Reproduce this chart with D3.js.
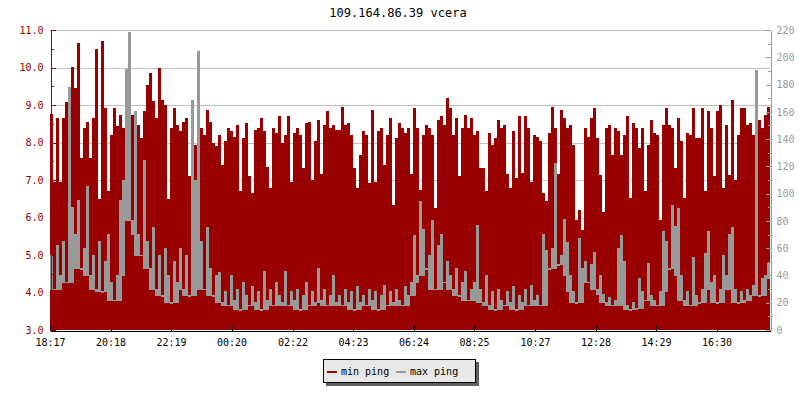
<!DOCTYPE html>
<html><head><meta charset="utf-8">
<script src="https://cdn.jsdelivr.net/npm/d3@7"></script>
<style>
body{margin:0;background:#fff}
svg text{font-family:"DejaVu Sans Mono",monospace;font-size:10px}
</style>
</head><body>
<svg id="c" width="800" height="400"></svg>
<script>
const chartTitle = "109.164.86.39 vcera";
const startTime = "18:17";
const stepMinutes = 6;
const xTickLabels = ["18:17","20:18","22:19","00:20","02:22","04:23","06:24","08:25","10:27","12:28","14:29","16:30"];
const leftTicks = [3,4,5,6,7,8,9,10,11];
const leftMinorTicks = [3.5,4.5,5.5,6.5,7.5,8.5,9.5,10.5];
const rightTicks = [0,20,40,60,80,100,120,140,160,180,200,220];
const rightMinorTicks = [10,30,50,70,90,110,130,150,170,190,210];
const seriesNames = ["min ping","max ping"];
const seriesColors = ["#990000","#999999"];

const minPing = [
8.76,6.95,8.65,6.95,8.65,9.08,9.0,10.01,9.45,10.65,7.59,8.39,8.56,7.6,8.65,10.5,6.5,10.7,8.92,6.7,8.21,8.92,8.43,8.74,8.39,8.3,8.39,8.74,8.83,8.48,8.12,8.83,9.54,9.85,9.1,8.65,9.99,9.14,9.0,6.5,8.39,8.92,8.48,8.3,8.56,8.65,7.1,8.21,
7.94,8.48,8.39,8.21,8.88,8.56,7.99,7.9,8.21,7.41,8.03,8.39,8.3,8.16,8.48,6.7,8.12,8.52,7.1,6.65,8.34,8.39,8.65,8.3,7.36,6.79,8.39,8.25,8.7,7.99,8.21,8.7,6.96,8.25,8.39,8.21,7.32,8.52,8.56,7.0,8.03,8.61,7.17,8.48,8.83,8.39,8.48,8.34,
8.34,8.96,8.48,8.52,8.21,7.32,6.79,7.68,8.3,8.21,6.92,8.88,6.96,8.3,8.39,7.41,8.21,8.65,6.34,8.12,8.52,8.39,8.25,8.39,7.17,8.92,8.39,6.74,8.21,8.48,8.39,8.21,6.25,8.61,8.7,8.48,9.19,8.92,8.21,8.65,7.1,8.39,8.74,8.39,8.65,8.21,8.3,7.32,
7.32,6.7,8.25,7.94,8.12,8.61,8.39,8.48,7.17,6.79,8.3,7.05,8.7,7.19,8.7,8.39,6.96,8.21,8.16,8.03,6.65,6.43,8.25,8.96,8.39,7.17,8.88,8.65,8.39,8.48,7.94,5.94,6.21,5.68,8.39,8.16,8.65,8.92,8.12,7.14,6.16,8.39,8.48,7.68,8.39,8.3,7.68,8.21,
8.7,6.52,8.52,8.39,7.85,8.39,6.7,7.94,8.61,8.25,8.21,5.94,8.48,8.92,8.48,8.39,7.32,8.65,8.03,6.52,8.25,8.21,8.92,8.12,8.12,8.92,6.7,8.83,8.39,7.1,8.83,9.0,6.79,8.48,7.14,9.14,7.0,8.21,8.92,8.92,8.48,8.52,8.21,8.7,8.61,8.39,8.74,8.96
];

const maxPing = [
55,30,62,40,65,35,178,90,70,95,45,60,105,40,55,30,65,28,50,70,35,22,40,95,110,191,218,80,160,70,55,124,65,45,75,30,55,25,60,40,20,50,35,60,30,55,25,168,
110,204,65,30,75,45,25,40,42,20,28,18,40,22,30,15,35,25,18,32,20,28,15,43,22,30,18,35,25,20,43,18,28,22,30,15,25,35,18,28,20,45,22,30,18,25,40,20,
25,18,30,20,28,15,32,20,25,18,30,22,28,15,25,33,18,28,20,30,22,18,32,25,35,69,40,94,74,45,55,80,30,62,70,35,50,40,30,45,25,35,43,22,30,35,77,30,
20,40,18,28,15,30,22,18,28,20,32,15,25,20,30,18,33,22,25,18,70,58,45,60,122,48,55,81,64,40,28,20,67,45,50,35,48,57,30,40,26,20,24,18,22,60,69,50,
18,15,20,16,38,28,22,49,25,22,18,28,72,65,45,91,76,89,40,22,28,18,53,25,20,30,56,72,35,40,20,30,55,40,70,75,30,20,28,22,30,25,33,190,25,38,40,49
];

const M = {left:50, right:770, top:30, bottom:330};
const svg = d3.select("#c");

const [sh, sm] = startTime.split(":").map(Number);
const start = new Date(2020,0,1,sh,sm);
const end = d3.timeDay.offset(start, 1);
const tOf = i => d3.timeMinute.offset(start, i*stepMinutes);
const tickDates = xTickLabels.map(l => {
  const [h,m] = l.split(":").map(Number);
  let d = new Date(2020,0,1,h,m);
  if (d < start) d = d3.timeDay.offset(d,1);
  return d;
});

const x = d3.scaleTime().domain([start,end]).range([M.left,M.right]);
const yL = d3.scaleLinear().domain([3,11]).range([M.bottom,M.top]);
const yR = d3.scaleLinear().domain([0,220]).range([M.bottom,M.top]);

// title
svg.append("text").attr("x",398).attr("y",17)
  .attr("text-anchor","middle").attr("fill","#000").style("font-size","12px").text(chartTitle);

// grid
svg.append("g").selectAll("line").data(leftTicks.filter(v=>v>3)).join("line")
  .attr("x1",M.left).attr("x2",M.right)
  .attr("y1",d=>Math.round(yL(d))+0.5).attr("y2",d=>Math.round(yL(d))+0.5)
  .attr("stroke","#c0c0c0").attr("stroke-width",1);

// min ping area (stepped columns)
const minData = minPing.map((v,i)=>({t:tOf(i),v}));
minData.push({t:end, v:minPing[minPing.length-1]});
svg.append("path").datum(minData)
  .attr("d", d3.area().x(d=>x(d.t)).y0(M.bottom).y1(d=>yL(d.v)).curve(d3.curveStepAfter))
  .attr("fill",seriesColors[0]).attr("shape-rendering","crispEdges");

// max ping: dense line drawn as per-sample vertical strokes
const maxData = maxPing.map((v,i)=>{
  const w = maxPing.slice(Math.max(0,i-2), Math.min(maxPing.length,i+3));
  return {t0:tOf(i), t1:tOf(i+1), v, lo:Math.min(...w)};
});
svg.append("g").selectAll("rect").data(maxData).join("rect")
  .attr("x",d=>x(d.t0)).attr("width",d=>x(d.t1)-x(d.t0))
  .attr("y",d=>yR(d.v)-0.5)
  .attr("height",d=>Math.max(1.5, yR(d.lo)-yR(d.v)+1))
  .attr("fill",seriesColors[1]).attr("shape-rendering","crispEdges");

// left axis
const gL = svg.append("g").attr("transform",`translate(${M.left+0.5},0)`)
  .call(d3.axisLeft(yL).tickValues(leftTicks).tickFormat(d3.format(".1f")).tickSizeInner(-5).tickSizeOuter(0).tickPadding(7));
gL.selectAll("path,line").attr("stroke","#990000").attr("shape-rendering","crispEdges");
gL.selectAll("text").attr("fill","#990000").style("font-family","'DejaVu Sans Mono',monospace").style("font-size","10px");
const gLm = svg.append("g").attr("transform",`translate(${M.left+0.5},0)`)
  .call(d3.axisLeft(yL).tickValues(leftMinorTicks).tickFormat("").tickSizeInner(-3).tickSizeOuter(0));
gLm.select(".domain").remove();
gLm.selectAll("line").attr("stroke","#990000").attr("shape-rendering","crispEdges");

// right axis
const gR = svg.append("g").attr("transform",`translate(${M.right+0.5},0)`)
  .call(d3.axisRight(yR).tickValues(rightTicks).tickSizeInner(-5).tickSizeOuter(0).tickPadding(6));
gR.selectAll("path,line").attr("stroke","#999999").attr("shape-rendering","crispEdges");
gR.selectAll("text").attr("fill","#999999").style("font-family","'DejaVu Sans Mono',monospace").style("font-size","10px");
const gRm = svg.append("g").attr("transform",`translate(${M.right+0.5},0)`)
  .call(d3.axisRight(yR).tickValues(rightMinorTicks).tickFormat("").tickSizeInner(-3).tickSizeOuter(0));
gRm.select(".domain").remove();
gRm.selectAll("line").attr("stroke","#999999").attr("shape-rendering","crispEdges");

// bottom axis
const gB = svg.append("g").attr("transform",`translate(0,${M.bottom+0.5})`)
  .call(d3.axisBottom(x).tickValues(tickDates).tickFormat(d3.timeFormat("%H:%M")).tickSizeInner(-5).tickSizeOuter(0).tickPadding(8));
gB.selectAll("path,line").attr("stroke","#000").attr("shape-rendering","crispEdges");
gB.selectAll("text").attr("fill","#000").style("font-family","'DejaVu Sans Mono',monospace").style("font-size","10px");

// legend
const lg = svg.append("g");
lg.append("rect").attr("x",326).attr("y",362).attr("width",153).attr("height",24).attr("fill","#606060");
lg.append("rect").attr("x",323.5).attr("y",359.5).attr("width",152).attr("height",23)
  .attr("fill","#e8e8e8").attr("stroke","#000").attr("stroke-width",1);
const items = [{n:seriesNames[0],c:seriesColors[0],x:327},{n:seriesNames[1],c:seriesColors[1],x:396}];
items.forEach(it=>{
  lg.append("line").attr("x1",it.x).attr("x2",it.x+10).attr("y1",372).attr("y2",372)
    .attr("stroke",it.c).attr("stroke-width",2);
  lg.append("text").attr("x",it.x+14).attr("y",375).attr("fill","#000").text(it.n);
});
</script>
</body></html>
